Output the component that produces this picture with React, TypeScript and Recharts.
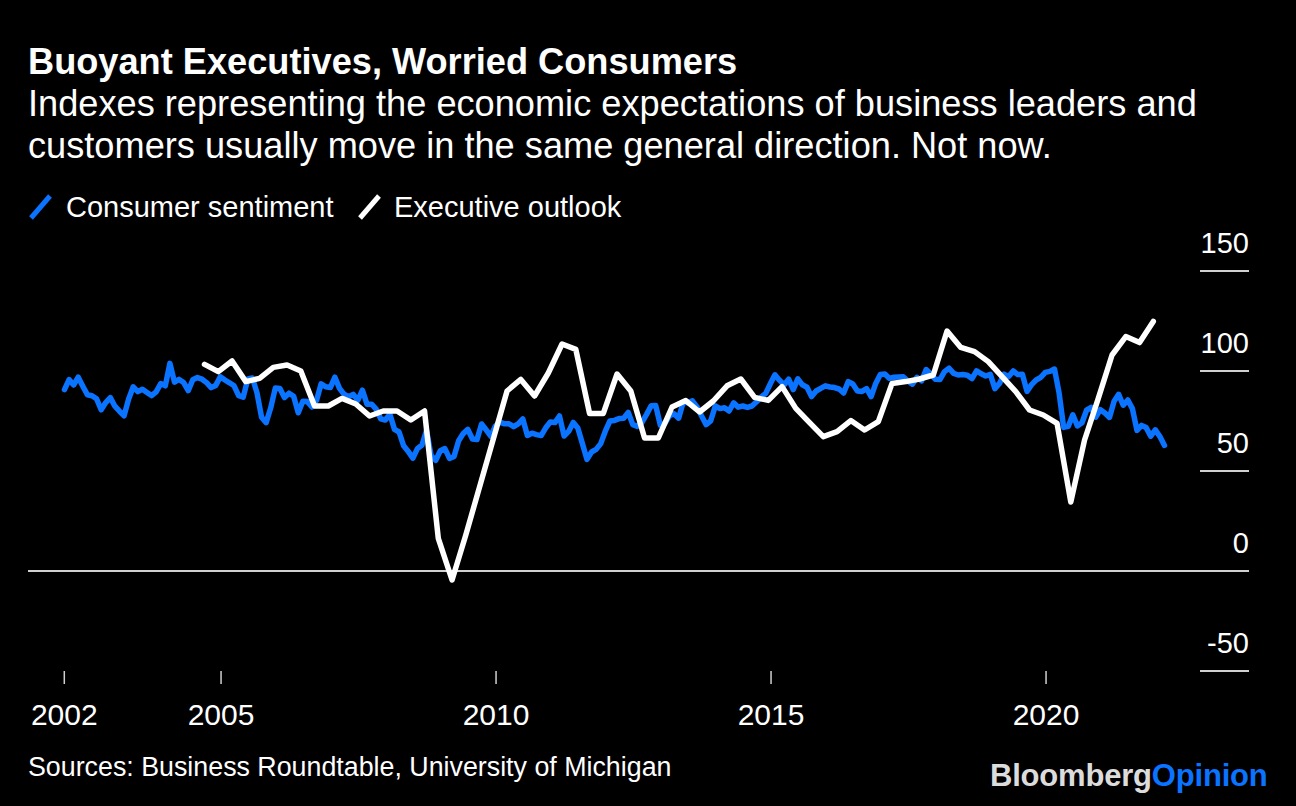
import React from 'react';
import { LineChart, Line, XAxis, YAxis, ReferenceLine } from 'recharts';

// University of Michigan consumer sentiment, monthly, Feb 2002 - Feb 2022
const sentiment2002 = [90.7, 95.7, 93.0, 96.9, 92.4, 88.1, 87.6, 86.1, 80.6, 84.2, 86.7];
const sentiment2003 = [82.4, 79.9, 77.6, 86.0, 92.1, 89.7, 90.9, 89.3, 87.7, 89.6, 93.7, 92.6];
const sentiment2004 = [103.8, 94.4, 95.8, 94.2, 90.2, 95.6, 96.7, 95.9, 94.2, 91.7, 92.8, 97.1];
const sentiment2005 = [95.5, 94.1, 92.6, 87.7, 86.9, 96.0, 96.5, 89.1, 76.9, 74.2, 81.6, 91.5];
const sentiment2006 = [91.2, 86.7, 88.9, 87.4, 79.1, 84.9, 84.7, 82.0, 85.4, 93.6, 92.1, 91.7];
const sentiment2007 = [96.9, 91.3, 88.4, 87.1, 88.3, 85.3, 90.4, 83.4, 83.4, 80.9, 76.1, 75.5];
const sentiment2008 = [78.4, 70.8, 69.5, 62.6, 59.8, 56.4, 61.2, 63.0, 70.3, 57.6, 55.3, 60.1];
const sentiment2009 = [61.2, 56.3, 57.3, 65.1, 68.7, 70.8, 66.0, 65.7, 73.5, 70.6, 67.4, 72.5];
const sentiment2010 = [74.4, 73.6, 73.6, 72.2, 73.6, 76.0, 67.8, 68.9, 68.2, 67.7, 71.6, 74.5];
const sentiment2011 = [74.2, 77.5, 67.5, 69.8, 74.3, 71.5, 63.7, 55.8, 59.5, 60.8, 63.7, 69.9];
const sentiment2012 = [75.0, 75.3, 76.2, 76.4, 79.3, 73.2, 72.3, 74.3, 78.3, 82.6, 82.7, 72.9];
const sentiment2013 = [73.8, 77.6, 78.6, 76.4, 84.5, 84.1, 85.1, 82.1, 77.5, 73.2, 75.1, 82.5];
const sentiment2014 = [81.2, 81.6, 80.0, 84.1, 81.9, 82.5, 81.8, 82.5, 84.6, 86.9, 88.8, 93.6];
const sentiment2015 = [98.1, 95.4, 93.0, 95.9, 90.7, 96.1, 93.1, 91.9, 87.2, 90.0, 91.3, 92.6];
const sentiment2016 = [92.0, 91.7, 91.0, 89.0, 94.7, 93.5, 90.0, 89.8, 91.2, 87.2, 93.8, 98.2];
const sentiment2017 = [98.5, 96.3, 96.9, 97.0, 97.1, 95.0, 93.4, 96.8, 95.1, 100.7, 98.5, 95.9];
const sentiment2018 = [95.7, 99.7, 101.4, 98.8, 98.0, 98.2, 97.9, 96.2, 100.1, 98.6, 97.5, 98.3];
const sentiment2019 = [91.2, 93.8, 98.4, 97.2, 100.0, 98.2, 98.4, 89.8, 93.2, 95.5, 96.8, 99.3];
const sentiment2020 = [99.8, 101.0, 89.1, 71.8, 72.3, 78.1, 72.5, 74.1, 80.4, 81.8, 76.9, 80.7];
const sentiment2021 = [79.0, 76.8, 84.9, 88.3, 82.9, 85.5, 81.2, 70.3, 72.8, 71.7, 67.4, 70.6];
const sentiment2022 = [67.2, 62.8];

const consumerSentiment = [
  ...sentiment2002, ...sentiment2003, ...sentiment2004, ...sentiment2005, ...sentiment2006,
  ...sentiment2007, ...sentiment2008, ...sentiment2009, ...sentiment2010, ...sentiment2011,
  ...sentiment2012, ...sentiment2013, ...sentiment2014, ...sentiment2015, ...sentiment2016,
  ...sentiment2017, ...sentiment2018, ...sentiment2019, ...sentiment2020, ...sentiment2021,
  ...sentiment2022,
];
const sentimentStart = 2002 + 1 / 12 + 0.07; // Feb 2002

// Business Roundtable CEO economic outlook, quarterly, Q3 2004 - Q4 2021
const executiveOutlook = [
  103.3, 99.7, 105.0, 94.7, 96.3, 101.8, 103.0, 100.0, 82.5, 82.5,
  86.3, 83.5, 77.5, 80.0, 80.0, 75.5, 80.0, 16.3, -4.5, 18.0,
  42.0, 66.0, 90.0, 95.8, 87.5, 99.0, 113.5, 110.8, 78.8, 78.8,
  98.5, 90.0, 66.5, 66.5, 82.0, 85.2, 79.5, 85.0, 92.6, 96.0,
  86.8, 85.3, 92.2, 81.3, 74.2, 67.2, 69.7, 75.2, 70.5, 74.7,
  93.8, 94.7, 96.0, 98.0, 120.0, 111.8, 109.7, 104.7, 97.2, 89.7,
  80.5, 78.0, 73.8, 34.5, 65.5, 86.3, 108.0, 117.2, 114.2, 124.8,
];
const executiveStart = 2004.7;

const xTicks = [2002.15, 2005, 2010, 2015, 2020];
const xTickLabels = ['2002', '2005', '2010', '2015', '2020'];
const yTicks = [-50, 0, 50, 100, 150];

const sentimentData = consumerSentiment.map((v, i) => ({ x: sentimentStart + i / 12, v }));
const executiveData = executiveOutlook.map((v, i) => ({ x: executiveStart + i * 0.25, v }));

const BLUE = '#0a73ff';
const GRID = '#d0d0d0';
const FONT = '"Liberation Sans", Arial, Helvetica, sans-serif';

const YTick = (props: any) => {
  const { x, y, payload } = props;
  return (
    <g>
      {payload.value !== 0 && (
        <line x1={x - 49} x2={x} y1={y} y2={y} stroke={GRID} strokeWidth={2} />
      )}
      <text x={x} y={y - 18} textAnchor="end" fill="#ffffff" fontSize={29} fontFamily={FONT}>
        {payload.value}
      </text>
    </g>
  );
};

const XTick = (props: any) => {
  const { x, y, payload } = props;
  const idx = xTicks.indexOf(payload.value);
  return (
    <text x={x} y={y} dy="0.71em" textAnchor="middle" fill="#ffffff" fontSize={30} fontFamily={FONT}>
      {idx >= 0 ? xTickLabels[idx] : ''}
    </text>
  );
};

const LegendIcon = ({ color }: { color: string }) => (
  <svg width={26} height={28} style={{ display: 'block' }}>
    <line x1={3} y1={25} x2={22} y2={3} stroke={color} strokeWidth={5} />
  </svg>
);

export default function App() {
  return (
    <div
      style={{
        position: 'absolute',
        left: 0,
        top: 0,
        width: 1296,
        height: 806,
        background: '#000000',
        color: '#ffffff',
        fontFamily: FONT,
        overflow: 'hidden',
      }}
    >
      <div style={{ position: 'absolute', left: 28, top: 42, fontSize: 36.2, lineHeight: '40px', fontWeight: 700 }}>
        Buoyant Executives, Worried Consumers
      </div>
      <div style={{ position: 'absolute', left: 28, top: 83, width: 1260, fontSize: 36.2, lineHeight: '42px' }}>
        Indexes representing the economic expectations of business leaders and
        <br />
        customers usually move in the same general direction. Not now.
      </div>
      <div style={{ position: 'absolute', left: 28, top: 193 }}>
        <LegendIcon color={BLUE} />
      </div>
      <div style={{ position: 'absolute', left: 66, top: 190, fontSize: 29, lineHeight: '34px' }}>
        Consumer sentiment
      </div>
      <div style={{ position: 'absolute', left: 357, top: 193 }}>
        <LegendIcon color="#ffffff" />
      </div>
      <div style={{ position: 'absolute', left: 394, top: 190, fontSize: 29, lineHeight: '34px' }}>
        Executive outlook
      </div>

      <div style={{ position: 'absolute', left: 0, top: 0 }}>
        <LineChart width={1296} height={806} margin={{ top: 271, right: 0, bottom: 75, left: 28 }}>
          <XAxis
            type="number"
            dataKey="x"
            domain={[2001.49, 2023.69]}
            ticks={xTicks}
            interval={0}
            allowDataOverflow
            axisLine={false}
            tickLine={{ stroke: GRID, strokeWidth: 1.5 }}
            tickSize={13}
            tickMargin={20}
            height={60}
            tick={<XTick />}
          />
          <YAxis
            orientation="right"
            domain={[-50, 150]}
            ticks={yTicks}
            interval={0}
            axisLine={false}
            tickLine={false}
            tickSize={0}
            tickMargin={0}
            width={47}
            tick={<YTick />}
          />
          <ReferenceLine y={0} stroke={GRID} strokeWidth={2} />
          <Line
            data={sentimentData}
            dataKey="v"
            type="linear"
            stroke={BLUE}
            strokeWidth={5.5}
            dot={false}
            strokeLinejoin="round"
            strokeLinecap="round"
            isAnimationActive={false}
          />
          <Line
            data={executiveData}
            dataKey="v"
            type="linear"
            stroke="#ffffff"
            strokeWidth={5.5}
            dot={false}
            strokeLinejoin="round"
            strokeLinecap="round"
            isAnimationActive={false}
          />
        </LineChart>
      </div>

      <div style={{ position: 'absolute', left: 28, top: 752, fontSize: 26.8, lineHeight: '30px' }}>
        Sources: Business Roundtable, University of Michigan
      </div>
      <div
        style={{
          position: 'absolute',
          left: 990,
          top: 759,
          fontSize: 31,
          lineHeight: '34px',
          fontWeight: 700,
          letterSpacing: '-0.2px',
        }}
      >
        <span style={{ color: '#dcdcdc' }}>Bloomberg</span>
        <span style={{ color: BLUE }}>Opinion</span>
      </div>
    </div>
  );
}
